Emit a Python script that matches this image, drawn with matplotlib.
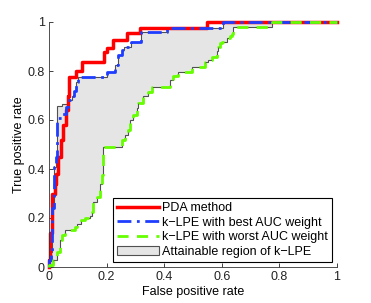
import matplotlib
matplotlib.use("Agg")
import matplotlib.pyplot as plt
from matplotlib.lines import Line2D
from matplotlib.patches import Patch

plt.rcParams['font.family'] = ['Liberation Sans', 'DejaVu Sans']

# ROC curves as staircase corners (fpr, tpr): right, then up
pda_fpr = [0, 0, 0.004, 0.012, 0.02, 0.023, 0.03, 0.04, 0.049, 0.058, 0.066, 0.069,
           0.093, 0.115, 0.19, 0.2, 0.222, 0.27, 0.316, 0.547, 1.0]
pda_tpr = [0, 0.03, 0.14, 0.3, 0.34, 0.38, 0.45, 0.52, 0.58, 0.64, 0.7, 0.777,
           0.798, 0.835, 0.876, 0.894, 0.927, 0.955, 0.977, 1.0, 1.0]

best_fpr = [0, 0, 0.006, 0.012, 0.017, 0.023, 0.029, 0.046, 0.058, 0.067, 0.08, 0.088,
            0.094, 0.102, 0.2, 0.229, 0.24, 0.252, 0.26, 0.284, 0.318, 0.408, 0.603, 1.0]
best_tpr = [0, 0.03, 0.06, 0.24, 0.41, 0.45, 0.607, 0.625, 0.654, 0.68, 0.70, 0.72,
            0.755, 0.777, 0.797, 0.824, 0.865, 0.885, 0.9, 0.92, 0.958, 0.977, 1.0, 1.0]

worst_fpr = [0, 0, 0.015, 0.029, 0.038, 0.045, 0.056, 0.09, 0.098, 0.11, 0.125, 0.142,
             0.15, 0.154, 0.166, 0.177, 0.185, 0.189, 0.252, 0.264, 0.275, 0.281, 0.292,
             0.305, 0.31, 0.327, 0.345, 0.357, 0.42, 0.432, 0.449, 0.495, 0.542, 0.553,
             0.565, 0.582, 0.588, 0.594, 0.6, 0.617, 0.628, 0.634, 0.64, 0.775, 1.0]
worst_tpr = [0, 0.008, 0.03, 0.062, 0.11, 0.13, 0.151, 0.165, 0.175, 0.19, 0.2, 0.21,
             0.226, 0.265, 0.285, 0.34, 0.375, 0.49, 0.518, 0.54, 0.56, 0.6, 0.62,
             0.65, 0.668, 0.696, 0.716, 0.736, 0.763, 0.78, 0.797, 0.818, 0.838, 0.845,
             0.859, 0.88, 0.9, 0.914, 0.92, 0.935, 0.942, 0.949, 0.98, 1.0, 1.0]

# upper edge of the attainable region (envelope, mostly the best curve)
region_fpr = [0, 0, 0.006, 0.012, 0.017, 0.023, 0.027, 0.046, 0.067, 0.08, 0.088,
              0.094, 0.102, 0.2, 0.229, 0.24, 0.252, 0.26, 0.284, 0.318, 0.408, 0.603, 1.0]
region_tpr = [0, 0.03, 0.06, 0.24, 0.41, 0.45, 0.656, 0.665, 0.68, 0.70, 0.72,
              0.755, 0.777, 0.797, 0.824, 0.865, 0.885, 0.9, 0.92, 0.958, 0.977, 1.0, 1.0]

labels = ['PDA method', 'k\u2212LPE with best AUC weight',
          'k\u2212LPE with worst AUC weight', 'Attainable region of k\u2212LPE']


def stairs(xs, ys):
    sx, sy = [xs[0]], [ys[0]]
    for i in range(1, len(xs)):
        sx += [xs[i], xs[i]]
        sy += [ys[i - 1], ys[i]]
    return sx, sy


fig = plt.figure(figsize=(3.71, 3.03), dpi=100)
ax = fig.add_axes([49 / 371, 36 / 303, 288 / 371, 245 / 303])

ux, uy = stairs(region_fpr, region_tpr)
lx, ly = stairs(worst_fpr, worst_tpr)
ax.fill(ux + lx[::-1], uy + ly[::-1], facecolor='#e5e5e5', edgecolor='#505050',
        linewidth=0.8, zorder=1)

ax.plot(pda_fpr, pda_tpr, drawstyle='steps-post', color='#ff0000', lw=2.5,
        zorder=2, clip_on=False)
ax.plot(best_fpr, best_tpr, drawstyle='steps-post', color='#1f3dff', lw=2,
        linestyle=(0, (5, 2, 1, 2)), zorder=3, clip_on=False)
ax.plot(worst_fpr, worst_tpr, drawstyle='steps-post', color='#66ff00', lw=2,
        linestyle=(0, (4, 3)), zorder=4, clip_on=False)

ax.set_xlim(0, 1)
ax.set_ylim(0, 1)
ax.set_xticks([0, 0.2, 0.4, 0.6, 0.8, 1])
ax.set_xticklabels(['0', '0.2', '0.4', '0.6', '0.8', '1'])
ax.set_yticks([0, 0.2, 0.4, 0.6, 0.8, 1])
ax.set_yticklabels(['0', '0.2', '0.4', '0.6', '0.8', '1'])
ax.spines['top'].set_visible(False)
ax.spines['right'].set_visible(False)
for s in ['left', 'bottom']:
    ax.spines[s].set_linewidth(0.6)
    ax.spines[s].set_color('#333333')
ax.tick_params(direction='in', length=3, width=0.6, labelsize=9, pad=3,
               colors='#222222')
ax.set_xlabel('False positive rate', fontsize=9, labelpad=2)
ax.set_ylabel('True positive rate', fontsize=9, labelpad=1.5)

handles = [
    Line2D([], [], color='#ff0000', lw=2.5),
    Line2D([], [], color='#1f3dff', lw=2, linestyle=(0, (5, 2, 1, 2))),
    Line2D([], [], color='#66ff00', lw=2, linestyle=(0, (4, 3))),
    Patch(facecolor='#e5e5e5', edgecolor='#505050', linewidth=0.8),
]
leg = ax.legend(handles, labels, loc='lower right', bbox_to_anchor=(0.983, 0.02),
                fontsize=9, frameon=True, fancybox=False, framealpha=1,
                edgecolor='black', handlelength=3.3, handletextpad=0.25,
                labelspacing=0.2, borderpad=0.35, borderaxespad=0)
leg.get_frame().set_linewidth(0.8)

fig.savefig('out.png', dpi=100)
